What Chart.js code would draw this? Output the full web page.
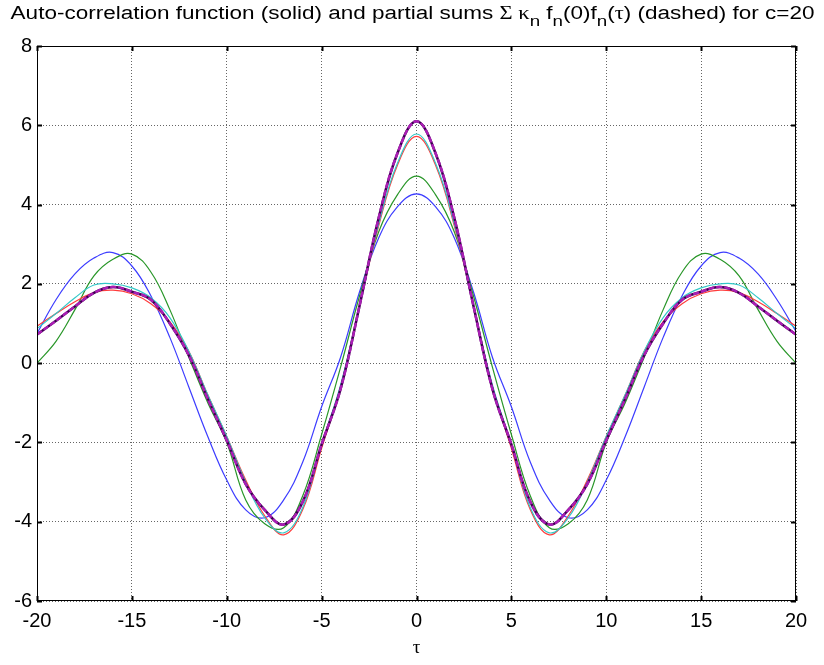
<!DOCTYPE html>
<html>
<head>
<meta charset="utf-8">
<script src="https://cdn.jsdelivr.net/npm/chart.js@4.4.1/dist/chart.umd.min.js"></script>
<style>
    body { margin: 0; background: #fff; }
    #wrap { position: relative; width: 824px; height: 665px; }
    #title {
        position: absolute; left: 1px; top: 3px; width: 824px;
        text-align: center; white-space: nowrap;
        font-family: "Liberation Sans", Arial, sans-serif; font-size: 18px; color: #000;
    }
    #title span.inner { display: inline-block; transform: scaleX(1.25); transform-origin: 50% 50%; }
    #title .sym { font-family: "Liberation Serif", "Times New Roman", serif; }
    #title sub { font-size: 15px; vertical-align: -7px; line-height: 0; }
    canvas { position: absolute; left: 0; top: 0; }
</style>
</head>
<body>
<div id="wrap">
    <canvas id="acfChart" width="824" height="665"></canvas>
    <div id="title"><span class="inner">Auto-correlation function (solid) and partial sums <span class="sym">&Sigma; &kappa;</span><sub>n</sub> f<sub>n</sub>(0)f<sub>n</sub>(<span class="sym">&tau;</span>) (dashed) for c=20</span></div>
</div>
<script>
// tau grid, -20 .. 20
const tauValues = [-20, -19, -18, -17, -16, -15, -14, -13, -12, -11, -10, -9, -8, -7, -6, -5, -4, -3, -2, -1, 0,
    1, 2, 3, 4, 5, 6, 7, 8, 9, 10, 11, 12, 13, 14, 15, 16, 17, 18, 19, 20];

// auto-correlation function (solid black, with magenta dashed partial sum on top)
const acfValues = [0.72, 1.07, 1.43, 1.77, 1.92, 1.8, 1.6, 1.0, 0.2, -0.9, -1.95, -3.05, -3.7, -4.07, -3.5, -2.05, -0.65, 1.45, 3.65, 5.3, 6.1,
    5.3, 3.65, 1.45, -0.65, -2.05, -3.5, -4.07, -3.7, -3.05, -1.95, -0.9, 0.2, 1.0, 1.6, 1.8, 1.92, 1.77, 1.43, 1.07, 0.72];

// partial sums
const blueValues = [0.75, 1.6, 2.25, 2.65, 2.79, 2.45, 1.7, 0.65, -0.6, -1.85, -2.95, -3.7, -3.9, -3.45, -2.5, -1.1, 0.15, 1.8, 3.15, 3.95, 4.27,
    3.95, 3.15, 1.8, 0.15, -1.1, -2.5, -3.45, -3.9, -3.7, -2.95, -1.85, -0.6, 0.65, 1.7, 2.45, 2.79, 2.65, 2.25, 1.6, 0.8];
const greenValues = [0.0, 0.55, 1.35, 2.2, 2.62, 2.75, 2.3, 1.35, 0.15, -1.0, -2.0, -3.45, -4.05, -4.15, -3.35, -1.8, -0.1, 1.7, 3.3, 4.25, 4.72,
    4.25, 3.3, 1.7, -0.1, -1.8, -3.35, -4.15, -4.05, -3.45, -2.0, -1.0, 0.15, 1.35, 2.3, 2.75, 2.62, 2.2, 1.35, 0.55, 0.0];
const redValues = [0.93, 1.25, 1.55, 1.78, 1.84, 1.75, 1.5, 1.05, 0.3, -0.8, -1.85, -2.95, -3.85, -4.33, -3.7, -2.15, -0.6, 1.45, 3.45, 5.0, 5.72,
    5.0, 3.45, 1.45, -0.6, -2.15, -3.7, -4.33, -3.85, -2.95, -1.85, -0.8, 0.3, 1.05, 1.5, 1.75, 1.84, 1.78, 1.55, 1.25, 0.93];
const cyanValues = [0.87, 1.25, 1.65, 1.97, 2.0, 1.9, 1.65, 1.15, 0.3, -0.8, -1.85, -3.0, -3.9, -4.28, -3.65, -2.05, -0.55, 1.45, 3.5, 5.05, 5.78,
    5.05, 3.5, 1.45, -0.55, -2.05, -3.65, -4.28, -3.9, -3.0, -1.85, -0.8, 0.3, 1.15, 1.65, 1.9, 2.0, 1.97, 1.65, 1.25, 0.87];

const xTicks = [-20, -15, -10, -5, 0, 5, 10, 15, 20];
const yTicks = [-6, -4, -2, 0, 2, 4, 6, 8];

const toPoints = vals => vals.map((v, i) => ({ x: tauValues[i], y: v }));

const FONT = { family: '"Liberation Sans", Arial, sans-serif', size: 20 };

// MATLAB-like box with inward tick marks on all four sides
const boxPlugin = {
    id: 'matlabBox',
    afterDraw(chart) {
        const { ctx, chartArea: a, scales } = chart;
        ctx.save();
        ctx.strokeStyle = '#000';
        ctx.lineWidth = 1;
        ctx.strokeRect(a.left + 0.5, a.top + 0.5, a.right - a.left - 1, a.bottom - a.top - 1);
        ctx.lineWidth = 2;
        ctx.beginPath();
        const len = 5;
        xTicks.forEach(t => {
            const px = Math.round(scales.x.getPixelForValue(t)) + 0.5;
            ctx.moveTo(px, a.bottom); ctx.lineTo(px, a.bottom - len);
            ctx.moveTo(px, a.top); ctx.lineTo(px, a.top + len);
        });
        yTicks.forEach(t => {
            const py = Math.round(scales.y.getPixelForValue(t)) + 0.5;
            ctx.moveTo(a.left, py); ctx.lineTo(a.left + len, py);
            ctx.moveTo(a.right, py); ctx.lineTo(a.right - len, py);
        });
        ctx.stroke();
        ctx.restore();
    }
};

const line = (vals, color, order, extra) => Object.assign({
    data: toPoints(vals),
    borderColor: color,
    borderWidth: 1.2,
    pointRadius: 0,
    tension: 0.4,
    fill: false,
    order: order
}, extra || {});

new Chart(document.getElementById('acfChart').getContext('2d'), {
    type: 'line',
    data: {
        datasets: [
            line(blueValues, 'rgb(60, 60, 255)', 7),
            line(greenValues, 'rgb(40, 150, 40)', 6),
            line(redValues, 'rgb(255, 60, 60)', 5),
            line(cyanValues, 'rgb(50, 200, 200)', 4),
            line(acfValues, 'rgb(60, 0, 80)', 2, { borderWidth: 2.5 }),
            line(acfValues, 'rgb(170, 30, 180)', 1, { borderWidth: 2.5, borderDash: [6, 2] })
        ]
    },
    options: {
        responsive: false,
        animation: false,
        layout: { padding: { top: 46, right: 28, left: 0, bottom: 0 } },
        plugins: {
            legend: { display: false },
            tooltip: { enabled: false }
        },
        scales: {
            x: {
                type: 'linear',
                min: -20,
                max: 20,
                afterFit: s => { s.height = 64; },
                afterBuildTicks: s => { s.ticks = xTicks.map(v => ({ value: v })); },
                ticks: { color: '#000', font: FONT, padding: 8, maxRotation: 0 },
                grid: { color: 'rgba(0,0,0,0.6)', drawTicks: false },
                border: { display: false, dash: [1, 2] },
                title: {
                    display: true,
                    text: 'τ',
                    color: '#000',
                    font: { family: '"Liberation Serif", "Times New Roman", serif', size: 19 },
                    padding: { top: 0, bottom: 6 }
                }
            },
            y: {
                type: 'linear',
                min: -6,
                max: 8,
                afterFit: s => { s.width = 37; },
                afterBuildTicks: s => { s.ticks = yTicks.map(v => ({ value: v })); },
                ticks: { color: '#000', font: FONT, padding: 5 },
                grid: { color: 'rgba(0,0,0,0.6)', drawTicks: false },
                border: { display: false, dash: [1, 2] }
            }
        }
    },
    plugins: [boxPlugin]
});
</script>
</body>
</html>
